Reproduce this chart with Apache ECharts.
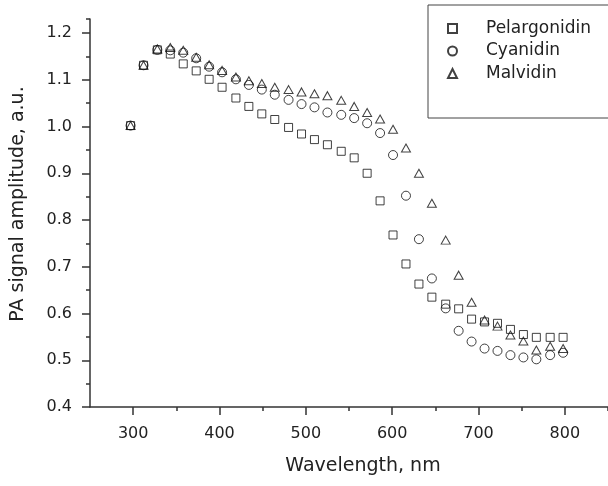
<!DOCTYPE html>
<html>
<head>
<meta charset="utf-8">
<script src="https://cdn.jsdelivr.net/npm/echarts@6/dist/echarts.min.js"></script>
<style>
  html, body { margin: 0; padding: 0; background: #fff; }
  #chart { width: 608px; height: 486px; }
</style>
</head>
<body>
<div id="chart"></div>
<script>
// wavelengths (nm)
const wavelength = [297, 312, 328, 343, 358, 373, 388, 403, 419, 434, 449, 464, 480, 495, 510, 525, 541,
  556, 571, 586, 601, 616, 631, 646, 662, 677, 692, 707, 722, 737, 752, 767, 783, 798];
const pelargonidin = [1.002, 1.131, 1.164, 1.155, 1.134, 1.119, 1.101, 1.084, 1.061, 1.043, 1.027, 1.015, 0.998, 0.984, 0.972, 0.961, 0.947,
  0.933, 0.900, 0.841, 0.768, 0.706, 0.663, 0.635, 0.620, 0.610, 0.588, 0.582, 0.579, 0.566, 0.555, 0.549, 0.549, 0.549];
const cyanidin = [1.002, 1.131, 1.164, 1.163, 1.158, 1.146, 1.128, 1.116, 1.101, 1.089, 1.079, 1.068, 1.057, 1.048, 1.041, 1.030, 1.025,
  1.018, 1.007, 0.986, 0.939, 0.852, 0.759, 0.675, 0.611, 0.563, 0.540, 0.525, 0.520, 0.511, 0.506, 0.502, 0.511, 0.516];
const malvidin = [1.002, 1.131, 1.166, 1.169, 1.163, 1.148, 1.132, 1.120, 1.106, 1.098, 1.092, 1.084, 1.079, 1.074, 1.070, 1.066, 1.056,
  1.043, 1.030, 1.016, 0.994, 0.954, 0.900, 0.836, 0.757, 0.682, 0.624, 0.586, 0.573, 0.554, 0.541, 0.522, 0.530, 0.525];

const xMajor = [300, 400, 500, 600, 700, 800];
const xMinor = [350, 450, 550, 650, 750, 850];
const yMajor = [0.4, 0.5, 0.6, 0.7, 0.8, 0.9, 1.0, 1.1, 1.2];
const yMinor = [0.45, 0.55, 0.65, 0.75, 0.85, 0.95, 1.05, 1.15, 1.23];

const seriesNames = ['Pelargonidin', 'Cyanidin', 'Malvidin'];
const seriesData = [pelargonidin, cyanidin, malvidin];
const symbols = ['rect', 'circle', 'triangle'];
const symbolSizes = [8, 9, [9, 8]];

const FONT = 'DejaVu Sans';
const INK = '#222';
const AXIS = '#333';

const myChart = echarts.init(document.getElementById('chart'));

const toPairs = (ys) => ys.map((y, i) => [wavelength[i], y]);

let option = {
  animation: false,
  backgroundColor: '#fff',
  grid: {
    left: 90,
    right: -5,
    top: 19,
    bottom: 79
  },
  legend: {
    orient: 'vertical',
    left: 428,
    top: 5,
    padding: [15, 200, 36, 19],
    borderColor: '#444',
    borderWidth: 1,
    itemWidth: 9,
    itemHeight: 9,
    itemGap: 5.5,
    textStyle: {
      fontFamily: FONT,
      fontSize: 17,
      color: INK,
      padding: [0, 0, 0, 24]
    },
    data: seriesNames
  },
  xAxis: [{
    type: 'value',
    min: 250,
    max: 850,
    position: 'bottom',
    name: 'Wavelength, nm',
    nameLocation: 'middle',
    nameGap: 50,
    nameTextStyle: { fontFamily: FONT, fontSize: 19, color: INK, padding: [0, 0, 0, 28] },
    splitLine: { show: false },
    axisLine: { lineStyle: { color: AXIS, width: 1.5 } },
    axisTick: { length: 8, customValues: xMajor, lineStyle: { color: AXIS, width: 1.5 } },
    axisLabel: { customValues: xMajor, margin: 19, fontFamily: FONT, fontSize: 16, color: INK }
  }, {
    // minor ticks
    type: 'value',
    min: 250,
    max: 850,
    position: 'bottom',
    splitLine: { show: false },
    axisLine: { show: false },
    axisTick: { length: 4, customValues: xMinor, lineStyle: { color: AXIS, width: 1.5 } },
    axisLabel: { show: false }
  }],
  yAxis: [{
    type: 'value',
    min: 0.4,
    max: 1.23,
    position: 'left',
    name: 'PA signal amplitude, a.u.',
    nameLocation: 'middle',
    nameGap: 62,
    nameTextStyle: { fontFamily: FONT, fontSize: 19, color: INK, padding: [0, 0, 0, 18] },
    splitLine: { show: false },
    axisLine: { lineStyle: { color: AXIS, width: 1.5 } },
    axisTick: { length: 8, customValues: yMajor, lineStyle: { color: AXIS, width: 1.5 } },
    axisLabel: {
      customValues: yMajor,
      margin: 18,
      fontFamily: FONT,
      fontSize: 16,
      color: INK,
      formatter: (v) => v.toFixed(1)
    }
  }, {
    type: 'value',
    min: 0.4,
    max: 1.23,
    position: 'left',
    splitLine: { show: false },
    axisLine: { show: false },
    axisTick: { length: 4, customValues: yMinor, lineStyle: { color: AXIS, width: 1.5 } },
    axisLabel: { show: false }
  }],
  series: seriesNames.map((name, i) => ({
    name: name,
    type: 'scatter',
    xAxisIndex: 0,
    yAxisIndex: 0,
    symbol: symbols[i],
    symbolSize: symbolSizes[i],
    itemStyle: {
      color: 'rgba(255,255,255,0)',
      borderColor: '#111',
      borderWidth: 1
    },
    data: toPairs(seriesData[i])
  }))
};
myChart.setOption(option);
</script>
</body>
</html>
